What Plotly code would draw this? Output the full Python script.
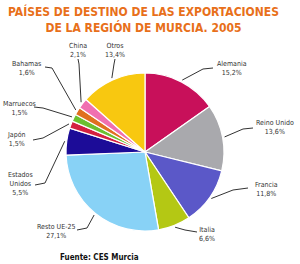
import math
import plotly.graph_objects as go

# ---- data ----
countries = ["Alemania", "Reino Unido", "Francia", "Italia", "Resto UE-25",
             "Estados<br>Unidos", "Japón", "Marruecos", "Bahamas", "China", "Otros"]
shares = [15.2, 13.6, 11.8, 6.6, 27.1, 5.5, 1.5, 1.5, 1.6, 2.1, 13.4]
share_labels = ["15,2%", "13,6%", "11,8%", "6,6%", "27,1%", "5,5%",
                "1,5%", "1,5%", "1,6%", "2,1%", "13,4%"]

colors = ["#C8105A", "#A9A9AD", "#5B58C8", "#B4C814", "#88D2F6", "#1C0C98",
          "#D42040", "#6CC030", "#E07020", "#F070B0", "#F8C810"]

W, H = 300, 264
CX, CY, R = 145, 152, 79

# label layout (pixels): text centre, line start, elbow
label_pos = [
    ((232, 68), (213, 68), (203, 69)),
    ((275, 127), (253, 128), (243, 129)),
    ((266, 189), (248, 188), (233, 190)),
    ((207, 234), (197, 232), (185, 230)),
    ((56, 231), (77, 230), (87, 228)),
    ((20, 184), (35, 185), (45, 183)),
    ((16, 139), (33, 140), (43, 138)),
    ((19, 109), (34, 107), (43, 108)),
    ((26, 68), (45, 67), (52, 68)),
    ((78, 50), (78, 59), (79, 64)),
    ((115, 50), (115, 59), (114, 64)),
]

def px(x, y):
    return x / W, 1 - y / H

fig = go.Figure(go.Pie(
    labels=countries, values=shares, sort=False, direction="clockwise",
    rotation=0, textinfo="none", hoverinfo="label+percent",
    marker=dict(colors=colors, line=dict(color="white", width=1.2)),
    domain=dict(x=[(CX - R) / W, (CX + R) / W],
                y=[1 - (CY + R) / H, 1 - (CY - R) / H]),
    showlegend=False,
))

total = sum(shares)
cum = 0.0
annotations = []
shapes = []
for name, v, lab, (tpos, start, elbow) in zip(countries, shares, share_labels, label_pos):
    mid = (cum + v / 2) / total * 2 * math.pi
    cum += v
    tip = (CX + (R + 2) * math.sin(mid), CY - (R + 2) * math.cos(mid))
    p0, p1, p2 = px(*start), px(*elbow), px(*tip)
    shapes.append(dict(type="path", xref="paper", yref="paper",
                       path=f"M {p0[0]},{p0[1]} L {p1[0]},{p1[1]} L {p2[0]},{p2[1]}",
                       line=dict(color="#333333", width=1)))
    tx, ty = px(*tpos)
    annotations.append(dict(x=tx, y=ty, xref="paper", yref="paper",
                            text=f"{name}<br>{lab}", showarrow=False,
                            xanchor="center", yanchor="middle",
                            font=dict(family="DejaVu Sans Condensed", size=7, color="#333333")))

annotations.append(dict(x=143 / W, y=1 - 19 / H, xref="paper", yref="paper",
                        text="<b>PAÍSES DE DESTINO DE LAS EXPORTACIONES<br>DE LA REGIÓN DE MURCIA. 2005</b>",
                        showarrow=False, xanchor="center", yanchor="middle",
                        font=dict(family="DejaVu Sans Condensed", size=12, color="#E8701A")))
annotations.append(dict(x=99 / W, y=1 - 257 / H, xref="paper", yref="paper",
                        text="<b>Fuente: CES Murcia</b>", showarrow=False,
                        xanchor="center", yanchor="middle",
                        font=dict(family="DejaVu Sans Condensed", size=8, color="#111111")))

fig.update_layout(width=W, height=H, margin=dict(l=0, r=0, t=0, b=0),
                  paper_bgcolor="white", plot_bgcolor="white",
                  annotations=annotations, shapes=shapes)
fig.write_html("out.html")
